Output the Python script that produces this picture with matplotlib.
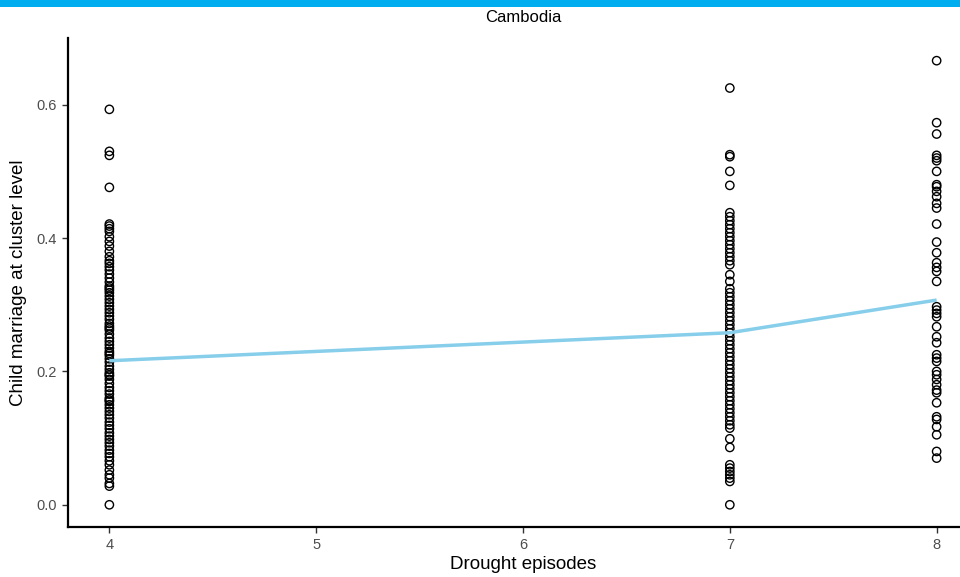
import matplotlib
matplotlib.use("Agg")
import matplotlib.pyplot as plt
from matplotlib.patches import Rectangle

plt.rcParams['font.family'] = ['Liberation Sans', 'DejaVu Sans']

# Data
country = "Cambodia"
x_ticks = [4, 5, 6, 7, 8]
y_ticks = [0.0, 0.2, 0.4, 0.6]

vals_4 = [0.593, 0.530, 0.524, 0.476, 0.421, 0.418, 0.414, 0.410, 0.402, 0.395,
          0.388, 0.380, 0.372, 0.366, 0.362, 0.357, 0.352, 0.346, 0.340, 0.334, 0.328,
          0.325, 0.322, 0.318, 0.313, 0.308, 0.303, 0.298, 0.293, 0.288, 0.283, 0.278,
          0.272, 0.268, 0.265, 0.262, 0.256, 0.250, 0.245, 0.240, 0.235, 0.230, 0.227, 0.224,
          0.219, 0.214, 0.208, 0.203, 0.198, 0.195, 0.193, 0.188, 0.182, 0.176, 0.171,
          0.166, 0.160, 0.157, 0.155, 0.150, 0.145, 0.140, 0.135, 0.130, 0.124, 0.119,
          0.114, 0.108, 0.103, 0.098, 0.093, 0.088, 0.082, 0.077, 0.072, 0.066,
          0.060, 0.052, 0.045, 0.040, 0.032, 0.028, 0.000]

vals_7 = [0.625, 0.525, 0.522, 0.500, 0.479, 0.438, 0.432, 0.426, 0.420, 0.414,
          0.408, 0.402, 0.396, 0.390, 0.384, 0.378, 0.372, 0.366, 0.360, 0.345,
          0.335, 0.324, 0.318, 0.312, 0.306, 0.300, 0.294, 0.288, 0.282, 0.276,
          0.270, 0.264, 0.258, 0.252, 0.246, 0.240, 0.234, 0.228, 0.222, 0.216,
          0.210, 0.204, 0.198, 0.192, 0.186, 0.180, 0.174, 0.168, 0.162, 0.156,
          0.150, 0.144, 0.138, 0.132, 0.126, 0.120, 0.115, 0.099, 0.086, 0.060,
          0.055, 0.050, 0.045, 0.040, 0.035, 0.000]

vals_8 = [0.666, 0.573, 0.556, 0.524, 0.520, 0.516, 0.500, 0.480, 0.477, 0.470,
          0.462, 0.452, 0.445, 0.421, 0.394, 0.378, 0.363, 0.356, 0.350, 0.335,
          0.297, 0.292, 0.287, 0.282, 0.267, 0.252, 0.243, 0.225, 0.220, 0.215,
          0.200, 0.195, 0.188, 0.180, 0.172, 0.168, 0.153, 0.132, 0.128, 0.117,
          0.105, 0.080, 0.070]

line_x = [4, 7, 8]
line_y = [0.216, 0.258, 0.307]

fig = plt.figure(figsize=(9.6, 5.77), dpi=100)
ax = fig.add_axes([68/960, 1-527/577, 910/960, (527-38)/577])

for xv, vals in [(4, vals_4), (7, vals_7), (8, vals_8)]:
    ax.scatter([xv]*len(vals), vals, s=36, facecolors='none', edgecolors='black',
               linewidths=1.0, zorder=2)

ax.plot(line_x, line_y, color='#87CEEB', linewidth=2.5, zorder=3, solid_capstyle='butt')

ax.set_xlim(3.8, 8.2)
ax.set_ylim(-0.0333, 0.70)
ax.set_xticks(x_ticks)
ax.set_xticklabels([str(t) for t in x_ticks])
ax.set_yticks(y_ticks)
ax.set_yticklabels([f"{t:.1f}" for t in y_ticks])

for s in ['top', 'right']:
    ax.spines[s].set_visible(False)
for s in ['left', 'bottom']:
    ax.spines[s].set_linewidth(1.6)
    ax.spines[s].set_color('black')

ax.tick_params(axis='both', direction='out', length=4, width=1.0, color='#333333',
               labelcolor='#4D4D4D', labelsize=10.5, pad=4)

ax.set_xlabel("Drought episodes", fontsize=13.5, color='black', labelpad=3)
ax.set_ylabel("Child marriage at cluster level", fontsize=13.5, color='black', labelpad=7)

fig.text((68+978)/2/960, 1-18/577, country, ha='center', va='center', fontsize=12)

fig.patches.append(Rectangle((0, 1-7/577), 1, 7/577, transform=fig.transFigure,
                             facecolor='#00AEEF', edgecolor='none', zorder=5))

fig.savefig("out.png", dpi=100)
